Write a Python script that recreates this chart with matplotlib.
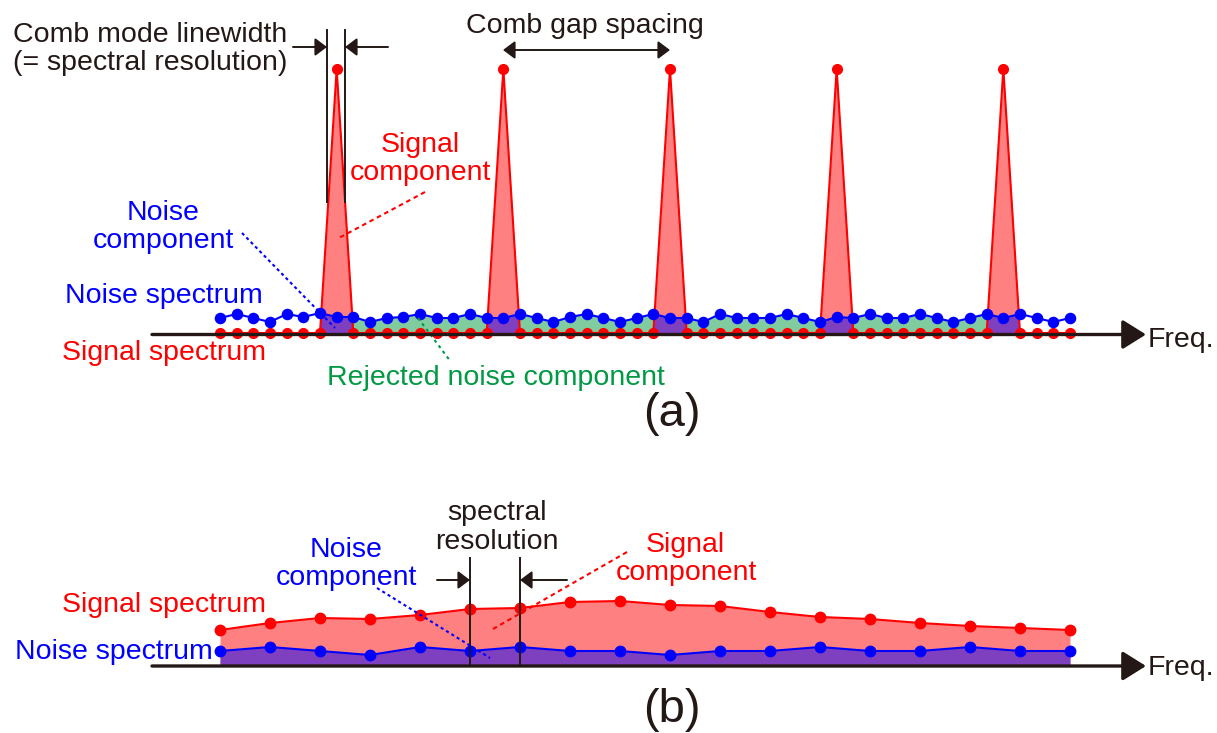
"""Comb-mode vs. conventional spectrum: signal and noise components."""

import matplotlib

matplotlib.use("Agg")
import matplotlib.pyplot as plt
import numpy as np

plt.rcParams["font.family"] = ["Liberation Sans", "DejaVu Sans"]

# panel (a): comb modes, one sample per mode position
COMB_IDX = np.arange(52)
PEAK_IDX = [7, 17, 27, 37, 47]
SIGNAL_A = [
    0, 0, 0, 0, 0, 0, 0, 264, 0, 0, 0, 0, 0,
    0, 0, 0, 0, 264, 0, 0, 0, 0, 0, 0, 0, 0,
    0, 264, 0, 0, 0, 0, 0, 0, 0, 0, 0, 264, 0,
    0, 0, 0, 0, 0, 0, 0, 0, 264, 0, 0, 0, 0,
]
NOISE_A = [
    15, 19, 15, 11, 19, 16, 20, 16, 16, 11, 15, 16, 19,
    15, 15, 19, 15, 15, 19, 15, 11, 16, 19, 15, 11, 15,
    19, 15, 15, 11, 19, 15, 15, 15, 19, 15, 11, 16, 15,
    19, 15, 15, 19, 15, 11, 15, 19, 15, 19, 15, 11, 15,
]

# panel (b): continuous spectrum sampled at the spectral resolution
BIN_IDX = np.arange(18)
SIGNAL_B = [35, 42, 47, 46, 50, 56, 57, 63, 64, 60, 59, 53, 48, 46, 42, 39, 37, 35]
NOISE_B = [14, 18, 14, 10, 18, 14, 18, 14, 14, 10, 14, 14, 18, 14, 14, 18, 14, 14]

RED = "#ff0000"
BLUE = "#0000ff"
PINK = "#ff8080"
GREEN_FILL = "#80cc9e"
PURPLE = "#7f40bf"
GREEN_TEXT = "#009944"
INK = "#231815"
W, H = 1217, 733


def frac(left, top, right, bottom):
    return [left / W, 1 - bottom / H, (right - left) / W, (bottom - top) / H]


fig = plt.figure(figsize=(W / 100, H / 100), dpi=100)

# ---- panel (a) marks
ax_a = fig.add_axes(frac(220, 69, 1070, 333))
ax_a.set_xlim(0, 51)
ax_a.set_ylim(0, 264)
ax_a.axis("off")
near_peak = np.zeros(len(COMB_IDX), dtype=bool)
for p in PEAK_IDX:
    near_peak[p - 1:p + 2] = True
between = (COMB_IDX >= PEAK_IDX[0] + 1) & (COMB_IDX <= PEAK_IDX[-1] - 1) & ~np.isin(COMB_IDX, PEAK_IDX)
ax_a.fill_between(COMB_IDX, SIGNAL_A, 0, color=PINK, lw=0, zorder=1)
ax_a.fill_between(COMB_IDX, NOISE_A, 0, where=between, color=GREEN_FILL, lw=0, zorder=2)
ax_a.fill_between(COMB_IDX, NOISE_A, 0, where=near_peak, color=PURPLE, lw=0, zorder=2)
ax_a.plot(COMB_IDX, SIGNAL_A, color=RED, lw=1.5, marker="o", ms=7, zorder=3, clip_on=False)
ax_a.plot(COMB_IDX, NOISE_A, color=BLUE, lw=1.5, marker="o", ms=7.3, zorder=4, clip_on=False)

# ---- panel (b) marks
ax_b = fig.add_axes(frac(220, 595, 1070, 665))
ax_b.set_xlim(0, 17)
ax_b.set_ylim(0, 70)
ax_b.axis("off")
ax_b.fill_between(BIN_IDX, SIGNAL_B, 0, color=PINK, lw=0, zorder=1)
ax_b.fill_between(BIN_IDX, NOISE_B, 0, color=PURPLE, lw=0, zorder=2)
ax_b.plot(BIN_IDX, SIGNAL_B, color=RED, lw=1.5, marker="o", ms=7.5, zorder=3, clip_on=False)
ax_b.plot(BIN_IDX, NOISE_B, color=BLUE, lw=1.5, marker="o", ms=7.5, zorder=4, clip_on=False)

# ---- annotation layer in pixel coordinates
ann = fig.add_axes([0, 0, 1, 1], zorder=5)
ann.set_xlim(0, W)
ann.set_ylim(H, 0)
ann.axis("off")
ann.patch.set_visible(False)


def arrow(x0, y0, x1, y1, style="-|>", hl=0.72, hw=0.54, lw=1.4):
    ann.annotate(
        "", xy=(x1, y1), xytext=(x0, y0),
        arrowprops=dict(arrowstyle=f"{style},head_length={hl},head_width={hw}",
                        color=INK, lw=lw, shrinkA=0, shrinkB=0, mutation_scale=10),
    )


def label(x, y, s, color=INK, ha="center", size=20.5):
    ann.text(x, y, s, color=color, ha=ha, va="baseline", fontsize=size)


# frequency axes
for y in (334.5, 666):
    arrow(152, y, 1146, y, hl=1.44, hw=0.9, lw=2.4)

# panel (a) annotations
ann.plot([327, 327], [30, 202], color=INK, lw=1.4)
ann.plot([345, 345], [30, 202], color=INK, lw=1.4)
arrow(293, 47, 327, 47)
arrow(388, 47, 345, 47)
arrow(503, 50, 670, 50, style="<|-|>")
ann.plot([425, 337], [192, 239], color=RED, lw=1.5, ls=(0, (2.2, 1.8)))
ann.plot([242, 335], [233, 328], color=BLUE, lw=1.5, ls=(0, (1.5, 1.5)))
ann.plot([418, 451], [318, 362], color=GREEN_TEXT, lw=1.5, ls=(0, (1.5, 1.8)))

label(13, 42, "Comb mode linewidth", ha="left")
label(13, 70, "(= spectral resolution)", ha="left")
label(585, 33, "Comb gap spacing")
label(420, 152, "Signal", RED)
label(420, 180, "component", RED)
label(163, 220, "Noise", BLUE)
label(163, 248, "component", BLUE)
label(65, 303, "Noise spectrum", BLUE, ha="left")
label(62, 360, "Signal spectrum", RED, ha="left")
label(327, 385, "Rejected noise component", GREEN_TEXT, ha="left")
label(1148, 347, "Freq.", ha="left")
label(672, 426, "(a)", size=34)

# panel (b) annotations
ann.plot([470, 470], [558, 665], color=INK, lw=1.4)
ann.plot([520, 520], [558, 665], color=INK, lw=1.4)
arrow(437, 580, 470, 580)
arrow(567, 580, 520, 580)
ann.plot([377, 490], [588, 658], color=BLUE, lw=1.5, ls=(0, (1.5, 1.5)))
ann.plot([627, 493], [552, 629], color=RED, lw=1.5, ls=(0, (2.2, 1.8)))

label(497, 520, "spectral")
label(497, 549, "resolution")
label(346, 557, "Noise", BLUE)
label(346, 585, "component", BLUE)
label(685, 552, "Signal", RED)
label(686, 580, "component", RED)
label(62, 612, "Signal spectrum", RED, ha="left")
label(15, 659, "Noise spectrum", BLUE, ha="left")
label(1148, 675, "Freq.", ha="left")
label(672, 722, "(b)", size=34)

fig.savefig("out.png", dpi=100, facecolor="white")
